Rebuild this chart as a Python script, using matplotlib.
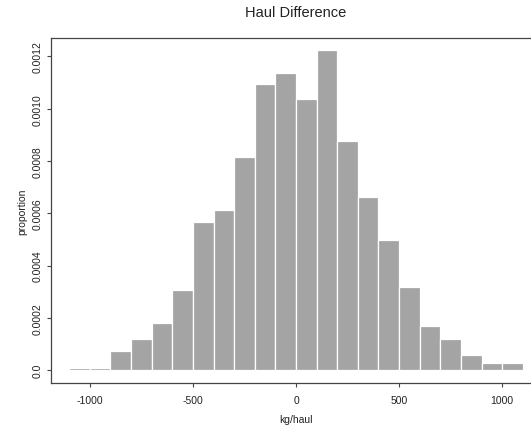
import numpy as np
import matplotlib.pyplot as plt

plt.rcParams['font.family'] = ['Liberation Sans', 'DejaVu Sans']

# histogram of haul difference (kg/haul), bins of 100
bin_edges = [-1100, -1000, -900, -800, -700, -600, -500, -400, -300, -200, -100,
             0, 100, 200, 300, 400, 500, 600, 700, 800, 900, 1000, 1100]
proportion = [0.000010, 0.000010, 0.000072, 0.000119, 0.000179, 0.000307,
              0.000568, 0.000614, 0.000816, 0.001095, 0.001136, 0.001037,
              0.001226, 0.000875, 0.000664, 0.000496, 0.000320, 0.000170,
              0.000119, 0.000059, 0.000029, 0.000029]
xticks = [-1000, -500, 0, 500, 1000]
yticks = [0.0, 0.0002, 0.0004, 0.0006, 0.0008, 0.0010, 0.0012]
ytick_labels = ["0.0", "0.0002", "0.0004", "0.0006", "0.0008", "0.0010", "0.0012"]

fig = plt.figure(figsize=(5.31, 4.27), dpi=100)
# axes runs past the right edge, like the cropped original
ax = fig.add_axes([51 / 531, 43 / 427, 490 / 531, 345 / 427])

edges = np.array(bin_edges)
ax.bar(edges[:-1], proportion, width=np.diff(edges), align='edge',
       color='#a4a4a4', edgecolor='white', linewidth=0.9)

ax.set_xlim(-1188, 1188)
ax.set_ylim(-0.0000488, 0.00127)
ax.set_xticks(xticks)
ax.set_xticklabels([str(v) for v in xticks])
ax.set_yticks(yticks)
ax.set_yticklabels(ytick_labels, rotation=90, va='center')

for s in ax.spines.values():
    s.set_color('#444444')
    s.set_linewidth(0.9)
ax.tick_params(axis='both', labelsize=7.5, length=3, width=0.8, color='#444444',
               labelcolor='#222222')
ax.tick_params(axis='x', pad=6)
ax.tick_params(axis='y', pad=3)

ax.set_xlabel('kg/haul', fontsize=7.5, color='#222222', labelpad=6)
ax.set_ylabel('proportion', fontsize=7.5, color='#222222', labelpad=4)
ax.set_title('Haul Difference', fontsize=10.5, color='#222222', pad=16)

fig.savefig('out.png', dpi=100)
